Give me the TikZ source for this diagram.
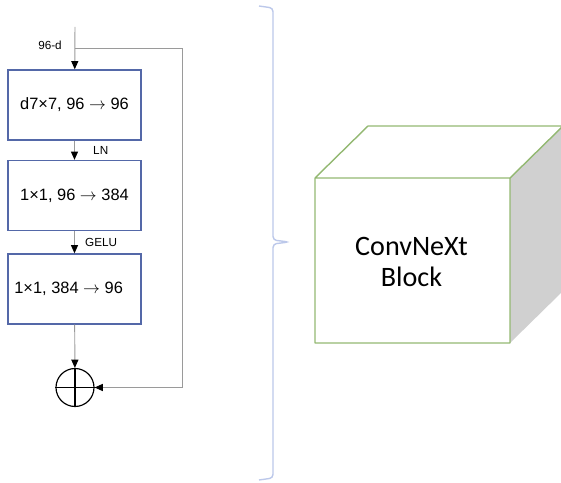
\documentclass[tikz,border=0pt]{standalone}
\usepackage{fontspec}
\setmainfont{Liberation Sans}
\newfontfamily\cubefont{Carlito}
\usetikzlibrary{arrows.meta}

\definecolor{boxblue}{HTML}{5468A8}
\definecolor{wiregray}{HTML}{9A9A9A}
\definecolor{cubegreen}{HTML}{93B872}
\definecolor{cubeside}{HTML}{D0D0D0}
\definecolor{bracecol}{HTML}{BCC8EA}

\newcommand{\tto}{ $\rightarrow$ }

\tikzset{
    layer/.style={draw=boxblue, line width=1.2pt, minimum width=3.99cm, minimum height=2.1cm,
        inner sep=0pt, font=\fontsize{14}{16}\selectfont},
    wire/.style={draw=wiregray, line width=0.8pt},
    tip/.style={-{Triangle[width=6pt,length=7pt,black]}},
    small/.style={font=\fontsize{10}{12}\selectfont, inner sep=0pt}
}

\begin{document}
\begin{tikzpicture}[x=0.03cm, y=-0.03cm]
    \useasboundingbox (0,0) rectangle (561,483);

    % the three layers of the block
    \node[layer] (dwconv) at (74.5,105) {d7×7, 96\tto96};
    \node[layer] (expand) at (74.5,195.5) {1×1, 96\tto384};
    \node[layer] (reduce) at (74.5,289) {\hspace{-10pt}1×1, 384\tto96};
    \node[circle, draw, line width=1pt, minimum size=1.14cm, inner sep=0pt] (add) at (75,387.5) {};
    \draw[line width=1pt] (add.north) -- (add.south) (add.west) -- (add.east);

    \coordinate (in) at (75,27);
    \coordinate (split) at (75,48);
    \coordinate (skiptop) at (182,48);
    \coordinate (skipbot) at (182,387.5);

    \draw[wire, tip] (in) -- (dwconv);
    \draw[wire, tip] (dwconv) -- (expand);
    \draw[wire, tip] (expand) -- (reduce);
    \draw[wire, tip] (reduce) -- (add);
    \draw[wire, tip] (split) -- (skiptop) -- (skipbot) -- (add);

    \node[small, anchor=east] (dim) at (62,45) {96-d};
    \node[small, anchor=west] (norm) at (93,150) {LN};
    \node[small, anchor=west] (act) at (85,242) {GELU};

    % brace
    \draw[bracecol, line width=1.2pt, rounded corners=3pt]
        (259,6) -- (273,8) -- (273,240) -- (289,242) -- (273,244) -- (273,478) -- (259,480);

    % cube
    \fill[cubeside] (510,178) -- (563,126) -- (563,291) -- (510,343) -- cycle;
    \draw[cubegreen, line width=1.2pt, line join=round]
        (315,178) rectangle (510,343)
        (315,178) -- (368,126) -- (563,126)
        (510,178) -- (563,126);
    \node[align=center, font=\cubefont\fontsize{24}{26.5}\selectfont] (cube) at (411.5,262) {ConvNeXt\\Block};
\end{tikzpicture}
\end{document}
